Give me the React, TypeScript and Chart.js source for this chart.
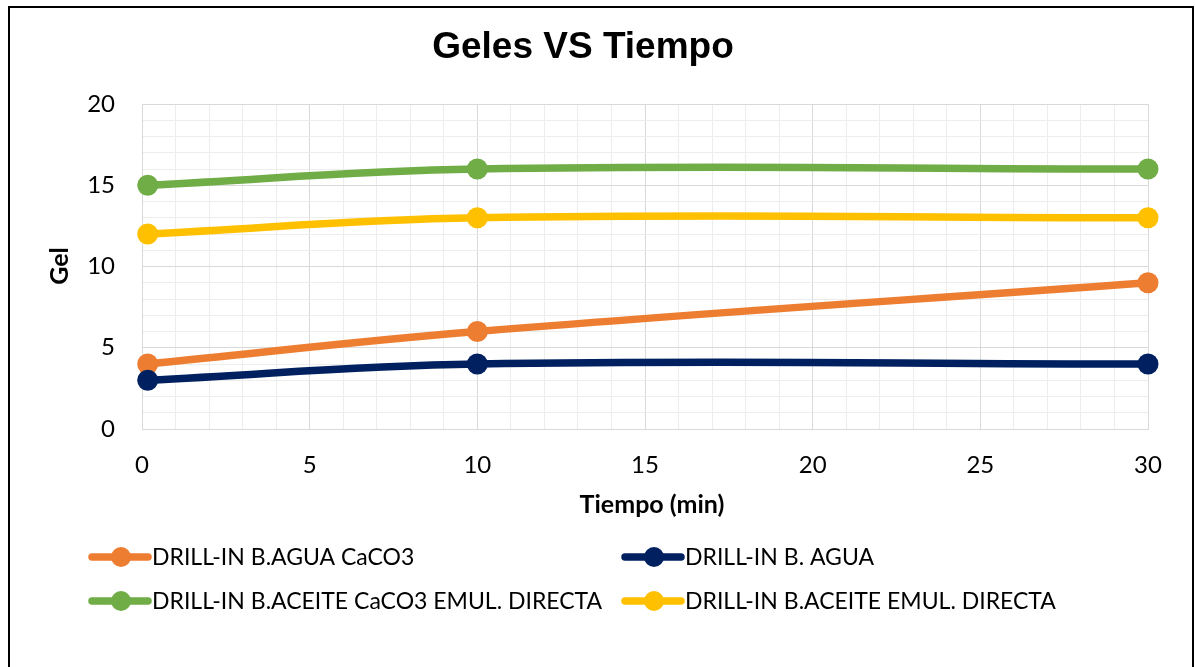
import React, { useEffect, useRef } from "react";
import { Chart, registerables } from "chart.js";

Chart.register(...registerables);

const chartTitle = "Geles VS Tiempo";
const xAxisTitle = "Tiempo (min)";
const yAxisTitle = "Gel";

const timeMin = [0.17, 10, 30];
const seriesLabels = [
  "DRILL-IN B.AGUA CaCO3",
  "DRILL-IN B. AGUA",
  "DRILL-IN B.ACEITE CaCO3 EMUL. DIRECTA",
  "DRILL-IN B.ACEITE EMUL. DIRECTA",
];
const aguaCaCO3 = [4, 6, 9];
const agua = [3, 4, 4];
const aceiteCaCO3 = [15, 16, 16];
const aceite = [12, 13, 13];
const seriesValues = [aguaCaCO3, agua, aceiteCaCO3, aceite];
const seriesColors = ["#ED7D31", "#002060", "#70AD47", "#FFC000"];

const xMin = 0;
const xMax = 30;
const yMin = 0;
const yMax = 20;
const minorStep = 1;
const majorStep = 5;

const MAJOR_GRID = "#d9d9d9";
const MINOR_GRID = "#ededed";
const FONT = "Lato, 'Open Sans', sans-serif";

const overlayPlugin = {
  id: "overlay",
  afterDraw(chart: any) {
    const { ctx } = chart;
    ctx.save();
    ctx.fillStyle = "#000";
    ctx.textAlign = "center";
    ctx.textBaseline = "alphabetic";
    ctx.font = "bold 37px 'Liberation Sans', Arial, sans-serif";
    ctx.fillText(chartTitle, 573, 50);

    ctx.font = `bold 25px ${FONT}`;
    ctx.textBaseline = "middle";
    ctx.fillText(xAxisTitle, 642, 497);

    ctx.save();
    ctx.translate(50, 258);
    ctx.rotate(-Math.PI / 2);
    ctx.fillText(yAxisTitle, 0, 0);
    ctx.restore();

    // legend
    const colX = [82, 615];
    const rowY = [549, 593];
    chart.data.datasets.forEach((ds: any, i: number) => {
      const x0 = colX[i % 2];
      const y = rowY[Math.floor(i / 2)];
      ctx.strokeStyle = ds.borderColor;
      ctx.lineWidth = 7.5;
      ctx.lineCap = "round";
      ctx.beginPath();
      ctx.moveTo(x0, y);
      ctx.lineTo(x0 + 56, y);
      ctx.stroke();
      ctx.fillStyle = ds.borderColor;
      ctx.beginPath();
      ctx.arc(x0 + 29, y, 10, 0, Math.PI * 2);
      ctx.fill();
      ctx.fillStyle = "#000";
      ctx.font = `23px ${FONT}`;
      ctx.textAlign = "left";
      ctx.textBaseline = "middle";
      ctx.fillText(ds.label, x0 + 60, y + 1);
    });
    ctx.restore();
  },
};

export default function App() {
  const canvasRef = useRef<HTMLCanvasElement | null>(null);

  useEffect(() => {
    const canvas = canvasRef.current;
    if (!canvas) return;
    const datasets = seriesLabels.map((label, i) => ({
      label,
      data: timeMin.map((x, j) => ({ x, y: seriesValues[i][j] })),
      borderColor: seriesColors[i],
      backgroundColor: seriesColors[i],
      borderWidth: 7.5,
      pointRadius: 10.5,
      pointBorderWidth: 0,
      pointBackgroundColor: seriesColors[i],
      tension: 0.4,
      order: seriesLabels.length - i,
      clip: false as any,
    }));
    const gridColor = (ctx: any) =>
      ctx.tick && ctx.tick.value % majorStep === 0 ? MAJOR_GRID : MINOR_GRID;
    const chart = new Chart(canvas, {
      type: "line",
      data: { datasets },
      plugins: [overlayPlugin],
      options: {
        responsive: false,
        animation: false,
        devicePixelRatio: 1,
        layout: { padding: { left: 0, right: 44, top: 96, bottom: 180 } },
        plugins: { legend: { display: false }, title: { display: false }, tooltip: { enabled: false } },
        scales: {
          x: {
            type: "linear",
            min: xMin,
            max: xMax,
            afterFit: (s: any) => { s.height = 60; },
            grid: { color: gridColor, lineWidth: 1, drawTicks: false },
            border: { color: MAJOR_GRID },
            ticks: {
              stepSize: minorStep,
              autoSkip: false,
              maxRotation: 0,
              maxTicksLimit: 100,
              padding: 22,
              color: "#000",
              font: { family: FONT, size: 24 },
              callback: (v: any) => (Number(v) % majorStep === 0 ? String(v) : ""),
            },
          },
          y: {
            type: "linear",
            min: yMin,
            max: yMax,
            afterFit: (s: any) => { s.width = 132; },
            grid: { color: gridColor, lineWidth: 1, drawTicks: false },
            border: { color: MAJOR_GRID },
            ticks: {
              stepSize: minorStep,
              autoSkip: false,
              maxTicksLimit: 100,
              padding: 27,
              color: "#000",
              font: { family: FONT, size: 24 },
              callback: (v: any) => (Number(v) % majorStep === 0 ? String(v) : ""),
            },
          },
        },
      },
    });
    return () => chart.destroy();
  }, []);

  return (
    <div
      style={{
        position: "fixed",
        left: 8,
        top: 6,
        width: 1182,
        height: 661,
        border: "2px solid #000",
        background: "#fff",
      }}
    >
      <canvas ref={canvasRef} width={1182} height={661} style={{ display: "block" }} />
    </div>
  );
}
